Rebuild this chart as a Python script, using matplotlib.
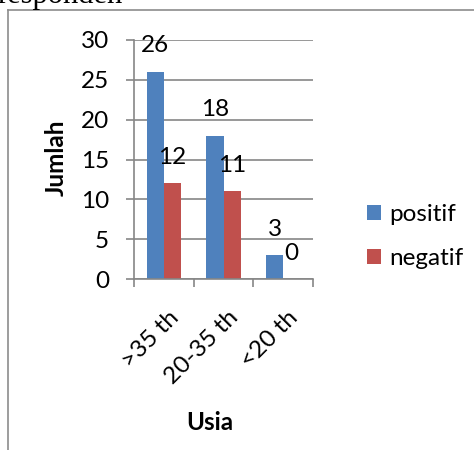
import matplotlib.pyplot as plt
import numpy as np
from matplotlib.lines import Line2D
from matplotlib.transforms import ScaledTranslation

kategori = ['>35 th', '20-35 th', '<20 th']
positif = [26, 18, 3]
negatif = [12, 11, 0]
seri = ['positif', 'negatif']

biru = '#4F81BD'
merah = '#C0504D'
abu = '#868686'
fs = 17.5

plt.rcParams['font.family'] = ['Lato', 'DejaVu Sans']

fig = plt.figure(figsize=(4.74, 4.5), dpi=100)
ax = fig.add_axes([134/474, 1-279/450, 179/474, 239/450])

x = np.arange(len(kategori))
w = 0.285
b1 = ax.bar(x - w, positif, width=w, align='edge', color=biru, label=seri[0])
b2 = ax.bar(x, negatif, width=w, align='edge', color=merah, label=seri[1])

# label nilai di atas batang
for bars, vals in [(b1, positif), (b2, negatif)]:
    for r, v in zip(bars, vals):
        ax.annotate(str(v), (r.get_x() + r.get_width()/2, v), xytext=(0, 26),
                    textcoords='offset pixels', ha='center', va='center', fontsize=fs)

ax.set_xlim(-0.5, 2.5)
ax.set_ylim(0, 30)
ax.set_yticks(range(0, 31, 5))
ax.yaxis.grid(True, color=abu, linewidth=1.2)
ax.set_axisbelow(True)

ax.set_xticks([-0.5, 0.5, 1.5, 2.5])
ax.set_xticklabels([])
ax.set_xticks(x, minor=True)
ax.set_xticklabels(kategori, minor=True, rotation=45, ha='right',
                   rotation_mode='anchor', fontsize=fs)
ax.tick_params(axis='x', which='minor', length=0, pad=20)
ax.tick_params(axis='x', which='major', length=6, width=1.2, color=abu)
ax.tick_params(axis='y', length=6, width=1.2, color=abu, labelsize=fs, pad=12)
geser = ScaledTranslation(4/100, 0, fig.dpi_scale_trans)
for t in ax.get_xticklabels(minor=True):
    t.set_transform(t.get_transform() + geser)

for s in ['top', 'right']:
    ax.spines[s].set_visible(False)
for s in ['left', 'bottom']:
    ax.spines[s].set_color(abu)
    ax.spines[s].set_linewidth(1.2)

fig.text(56/474, 1-158/450, 'Jumlah', rotation=90, ha='center', va='center',
         fontsize=fs, fontweight='bold')
fig.text(210/474, 1-422/450, 'Usia', ha='center', va='center',
         fontsize=fs, fontweight='bold')

fig.legend(handles=[b1, b2], labels=seri, loc='upper left',
           bbox_to_anchor=(355/474, 1-192/450), frameon=False, fontsize=fs,
           handlelength=0.55, handleheight=0.55, handletextpad=0.35,
           labelspacing=0.95, borderpad=0)

# bingkai grafik
fig.add_artist(Line2D([8/474, 1], [1-10/450, 1-10/450], color='#8c8c8c', lw=1.2))
fig.add_artist(Line2D([8/474, 8/474], [0, 1-10/450], color='#8c8c8c', lw=1.2))

fig.text(-0.005, 1-3/450, 'responden', family='Liberation Serif', fontsize=22,
         va='baseline', ha='left')

fig.savefig('out.png', dpi=100)
